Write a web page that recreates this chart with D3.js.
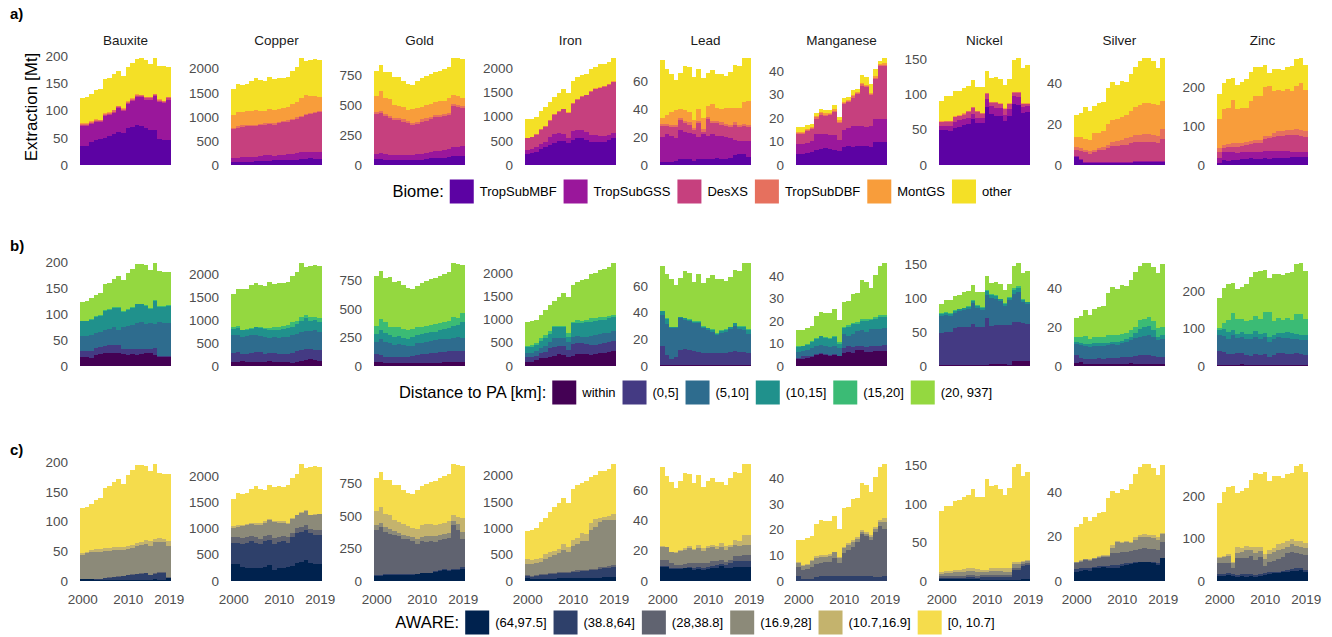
<!DOCTYPE html>
<html><head><meta charset="utf-8">
<script src="https://cdn.jsdelivr.net/npm/d3@7"></script>
<style>
html,body{margin:0;padding:0;background:#fff;}
svg{display:block;font-family:"Liberation Sans",Arial,Helvetica,sans-serif;}
</style></head><body>
<svg id="chart" width="1332" height="637"></svg>
<script>
// ---- categories & labels ----
const years = [2000,2001,2002,2003,2004,2005,2006,2007,2008,2009,2010,2011,2012,2013,2014,2015,2016,2017,2018,2019];
const minerals = ["Bauxite","Copper","Gold","Iron","Lead","Manganese","Nickel","Silver","Zinc"];
const biomeKeys = ["TropSubMBF","TropSubGSS","DesXS","TropSubDBF","MontGS","other"];
const distanceKeys = ["within","(0,5]","(5,10]","(10,15]","(15,20]","(20, 937]"];
const awareKeys = ["(64,97.5]","(38.8,64]","(28,38.8]","(16.9,28]","(10.7,16.9]","[0, 10.7]"];
const biomeColors = ["#5c02a3","#9a179b","#c6407e","#e6705e","#f89d3b","#f4e026"];
const distanceColors = ["#440154","#443a83","#2e6c8e","#20918c","#3bbb75","#94d840"];
const awareColors = ["#00224e","#2e406a","#606370","#8c8a79","#c4b36d","#f5dc4c"];
const yTickValues = [[0,50,100,150,200],[0,500,1000,1500,2000],[0,250,500,750],[0,500,1000,1500,2000],[0,20,40,60],[0,10,20,30,40],[0,50,100,150],[0,20,40],[0,100,200]];
const xTickValues = [2000,2010,2019];

// ---- extraction [Mt] by biome (one row per biome, bottom to top) ----
const biomeBauxite = [
 [35,35,42,45,48,50,53,57,60,58,68,70,74,72,67,64,64,48,46,46],
 [37,37,33,34,30,40,39,39,44,41,44,47,51,52,53,56,62,68,67,74],
 [2,2,2,2,2,2,2,2,2,2,2,2,2,2,2,2,2,2,2,2],
 [2,2,2,2,2,2,2,2,2,2,2,2,2,2,2,2,2,2,2,2],
 [1,1,1,1,1,1,1,1,1,1,1,1,1,1,1,1,1,1,1,1],
 [45,47,50,53,56,62,63,65,63,60,62,65,65,67,68,60,66,61,63,55]];
const biomeCopper = [
 [55,55,60,60,70,75,80,85,90,95,95,100,100,105,110,120,130,150,120,120],
 [95,95,100,100,95,95,110,115,110,100,115,110,120,125,140,140,140,125,155,160],
 [590,620,630,640,635,640,640,640,650,645,660,680,680,700,710,730,760,775,805,810],
 [30,30,30,30,30,30,30,30,30,30,30,30,30,30,30,30,30,30,30,30],
 [270,290,290,290,300,310,270,260,280,280,270,260,270,300,310,380,390,360,330,300],
 [530,590,550,560,620,660,630,610,660,640,640,620,620,700,740,830,710,740,750,760]];
const biomeGold = [
 [50,50,45,45,45,42,42,42,40,40,45,50,55,55,60,60,65,75,78,78],
 [42,50,45,40,39,42,42,42,44,50,50,50,55,60,60,65,70,75,74,77],
 [336,334,322,307,294,294,280,266,252,254,269,272,274,283,280,287,285,346,332,321],
 [18,18,18,18,18,18,18,18,18,18,18,18,18,18,18,18,18,18,18,18],
 [134,170,130,142,108,100,102,94,114,114,108,114,110,108,114,110,122,74,72,66],
 [210,213,215,226,231,244,216,218,204,224,240,241,248,251,258,265,260,312,319,327]];
const biomeIron = [
 [228,240,276,324,380,414,462,497,497,448,518,552,552,518,483,483,476,476,518,566],
 [82,84,104,111,103,159,173,159,138,104,193,173,173,165,138,138,130,120,100,90],
 [242,249,241,290,311,345,400,448,517,518,552,621,690,757,897,945,981,1026,1038,1055],
 [10,10,10,10,10,10,10,10,10,10,10,10,10,10,10,10,10,10,10,10],
 [5,5,5,5,5,5,5,5,5,5,5,5,5,5,5,5,5,5,5,5],
 [383,372,364,370,391,377,360,361,403,395,462,459,430,435,447,439,478,453,459,494]];
const biomeLead = [
 [2,2,2,3,4,4,4,3,4,4,4,4,5,4,4,5,7,8,8,6],
 [18,20,19,16,21,20,19,19,16,18,17,18,16,17,16,14,11,9,9,11],
 [8,6,6,8.5,7,6,6,3,10,2,12,8,9,8,8,8.5,11,10,11,10],
 [1.5,1.5,1.5,1.5,1.5,1.5,1.5,1.5,1.5,1.5,1.5,1.5,1.5,1.5,1.5,1.5,1.5,1.5,1.5,1.5],
 [4.5,6,9.5,10.5,6.5,8,7.3,5.5,8.5,8,7.8,12.5,9.1,9.8,11.1,11.6,10.1,12.1,15.5,17.5],
 [41,33.5,27,21.5,26,31.5,32.2,31,29,28.5,23.7,24,24.4,24.7,23.4,26.4,31.4,30.4,32,31]];
const biomeManganese = [
 [4.6,4.8,5.3,5.7,6.4,6.9,7.4,6.9,6.4,6.1,7.6,7.9,7.6,7.9,7.9,8.1,7.6,9.6,9.6,9.6],
 [4.3,4.2,4,4.6,6.9,6.4,5.7,6,6.5,4.3,7.4,7.8,9.1,8.5,8.5,8,9.1,10,10.1,10],
 [4.1,4,5,5,6.4,8.1,7.8,8.2,9.7,7.5,10.9,10.9,11.9,13.6,17.3,16.8,13,17,22.2,22.5],
 [0.5,0.5,0.5,0.5,0.5,0.5,0.5,0.5,0.5,0.5,0.5,0.5,0.5,0.5,0.5,0.5,0.5,0.5,0.5,0.5],
 [0.5,0.5,0.5,0.5,0.5,0.5,0.5,0.5,0.5,0.5,0.5,0.5,0.5,0.5,0.5,0.5,0.5,0.5,0.5,0.5],
 [2,2,1.5,1.3,1.3,1.3,1.4,1.2,1.8,1.3,1.6,1.2,2.4,1.2,3.3,3.5,3.8,3,1.4,2.5]];
const biomeNickel = [
 [49,49,48,52,54,56,58,65,60,59,82,72,70,70,62,69,86,85,73,75],
 [5.5,6.5,7.5,9,9.6,9,8.8,7.7,6.8,7,11,11,10.5,10.5,8.5,9.6,11.7,11.8,8.8,8],
 [6,5.5,5.5,6.3,5.4,6.4,8.2,7.8,8.2,6.7,8,4.7,7.2,5.5,8.1,7.4,4.3,5.2,4.2,3],
 [1,1,1,1,1,1,1,1,1,1,1,1,1,1,1,1,1,1,1,1],
 [0.5,0.5,0.5,0.5,0.5,0.5,0.5,0.5,0.5,0.5,0.5,0.5,0.5,0.5,0.5,0.5,0.5,0.5,0.5,0.5],
 [29,34.5,34.5,35.2,34.5,36.1,35.5,38,33.5,35.8,30.5,33.8,35.8,33.5,32.9,34.5,44.5,48.5,49.5,53.5]];
const biomeSilver = [
 [3.7,2.5,1,0.8,0.8,0.8,1,1,1,1.2,1.2,1.2,1.2,1.5,1.7,1.7,1.5,1.5,1.5,1.5],
 [0.5,0.5,0.5,0.5,0.5,0.5,0.5,0.5,0.5,0.5,0.5,0.5,0.5,0.5,0.5,0.5,0.5,0.5,0.5,0.5],
 [3.3,3.7,4.7,4.2,4.9,5.9,6,6.8,7.7,7.5,8.3,8.3,9.1,9.2,9,9.3,9.5,9.2,8.8,10.8],
 [1.3,1.6,1.3,1.2,1,1.1,1.3,1.7,2,2.5,2.5,3.3,3,3.3,3.3,3.5,3.5,3.3,3.4,4.7],
 [5,5.5,5.3,5.8,8.3,7.5,7.9,10,11,10.8,11.3,11.2,12.9,13.8,15,15.5,15.5,15.5,15.3,14.2],
 [10.7,11.7,15.7,13.8,13.5,14.7,14.3,17.6,18.4,17,17.7,16.5,17.8,19.9,21.8,22.3,22.3,20.9,18.3,20.7]];
const biomeZinc = [
 [6,13,11,13,13,15,15,17,16,16,17,15,17,17,19,17,21,21,21,20],
 [11,19,21,19,17,17,17,15,16,18,20,22,20,20,18,20,13,13,13,12],
 [15,11,13.5,15,15.5,17,19.5,22,24,22,29,31.6,34,37.6,37.6,40,43,43,40.6,39],
 [11,8.5,8.5,8.8,10.3,8.5,8.5,8.6,8,8,8.6,6,10.5,11.2,11.2,13,13,14.8,15.4,14.8],
 [74.5,91.5,92,109.8,87.2,88.5,86,100.4,113.6,113.6,125.4,127,109,107.2,103,104.8,98.8,111.5,120,107.2],
 [65.5,66,74,57.4,63,66,74,75,73.4,73.4,56,33.4,55.5,53,54.2,56.2,64.2,68.7,65,63]];

// ---- extraction [Mt] by distance to protected areas ----
const distBauxite = [
 [16,17,14,20,22,24,24,25,25,22,21,22,21,23,24,25,21,17,16,16],
 [12.5,11.5,14.5,13.6,13.6,14,16,15,15,9.7,10.7,9.7,10.7,10,9,8,12.6,2,2,2],
 [29.1,29.1,31,29.2,28.4,30,30.5,34.4,29,42.7,44,47.3,50.3,50.5,48,49,46.4,64.5,64,64],
 [27.8,27.8,29.1,31,32.4,36.8,37.5,36.6,42,28.5,32.3,32,35.8,34.3,33.5,27.3,44.2,29.5,31,33.8],
 [1.5,1.5,1.5,1.5,1.5,1.5,1.5,1.5,1.5,1.5,1.5,1.5,1.5,1.5,1.5,1.5,1.5,1.5,1.5,1.5],
 [35.1,37.1,39.9,41.7,41.1,50.7,50.5,53.5,59.5,59.6,69.5,74.5,75.7,76.7,77,74.2,71.3,67.5,66.5,62.7]];
const distCopper = [
 [86,86,100,86,90,86,86,80,110,80,86,72,70,65,86,100,120,136,120,100],
 [194,215,165,179,190,215,215,185,170,200,179,179,195,215,237,237,253,237,231,237],
 [380,373,359,373,380,373,344,359,329,344,344,373,359,380,372,394,380,380,416,394],
 [143,151,143,144,143,165,180,179,158,158,173,179,201,193,215,251,287,229,230,215],
 [36,50,20,21,22,14,28,22,58,57,71,72,71,93,72,72,71,86,57,86],
 [731,805,873,877,925,957,907,915,995,951,957,925,924,1014,1058,1176,1049,1112,1136,1148]];
const distGold = [
 [29,29,26,26,26,26,24,24,24,26,26,26,26,26,26,29,29,29,32,35],
 [71,65,53,53,47,53,55,55,64,68,77,77,83,89,97,94,100,103,100,97],
 [112,138,133,118,109,109,100,95,85,103,100,109,111,111,109,109,109,109,118,109],
 [67,83,79,73,74,74,68,64,77,73,76,73,74,74,83,88,91,109,109,147],
 [71,94,97,68,88,82,79,77,70,68,59,65,65,68,64,68,68,76,58,79],
 [440,426,387,440,391,402,380,371,352,362,392,395,401,407,411,417,423,474,476,420]];
const distIron = [
 [87,87,123,159,173,195,209,245,231,195,209,253,253,253,231,245,267,267,303,318],
 [93,108,86,108,130,180,203,181,195,144,260,231,231,216,217,203,202,217,202,223],
 [87,87,109,108,123,145,180,180,180,181,145,159,144,159,195,216,210,216,210,217],
 [130,130,130,166,166,166,238,224,224,108,303,288,303,325,310,311,310,289,310,289],
 [29,36,36,51,72,72,29,29,29,72,36,58,44,36,72,50,58,72,51,50],
 [524,512,516,518,536,552,551,621,711,780,787,831,885,901,955,995,1033,1029,1054,1123]];
const distLead = [
 [0.5,0.5,0.5,0.5,0.5,0.5,0.5,0.5,0.5,0.5,0.5,0.5,0.5,0.5,0.5,0.5,0.5,0.5,0.5,0.5],
 [14.3,7.5,4.3,6.3,11.3,11.8,11.3,10.8,10,8.8,8.8,8.8,8.8,8.8,8.8,9.5,10.5,9.5,10,9.3],
 [23.2,23.3,23.2,21.2,23.7,22,21.7,20.5,21.3,18.7,17.5,16.2,13.7,15.5,16.2,17.3,18.8,17.3,16,14],
 [3,3.5,0.8,0.8,0.8,1.2,0.8,1.2,1.2,1.3,1.2,1.3,0.8,1.5,1.3,1.5,2,2,2.5,3],
 [0.5,1,0.5,0.5,0.5,0.5,0.5,0.5,0.5,0.5,0.5,0.5,0.5,0.5,0.5,0.5,0.5,0.5,0.5,0.8],
 [33.5,33.2,35.7,31.7,29.2,35,35.2,29.5,35.5,32.2,37.5,40.7,40.7,38.2,36.7,37.7,39.7,41.2,47.5,49.4]];
const distManganese = [
 [3,3,3.3,3.8,4.8,5.3,4.8,4.4,4.8,4.1,5.6,5.9,5.6,6.8,6.8,6.3,6.3,6.6,6.6,6.6],
 [0.3,1.1,0.8,0.3,0.5,0.3,0.5,0.4,0.5,0.3,2.2,2.7,2.7,2.1,2.1,2,2.6,2.3,2.3,2.8],
 [3,2.5,3,3.7,3.6,3.8,3.6,3.5,3.6,3.4,6.1,4.8,6,6.5,6.9,6.6,7.3,7.3,7.6,7.5],
 [2,2,2.3,2.6,3,3.7,3.5,3.6,3.7,2,3,4,4.1,3,4.1,5,4.2,4.8,5.4,5],
 [0.3,0.3,0.4,0.5,0.5,0.3,0.4,0.5,0.8,0.6,0.5,0.6,0.5,1,0.8,0.8,0.6,0.9,0.6,0.6],
 [7.4,7.1,7,6.7,9.6,10.3,10.5,10.9,12,9.8,11.1,10.8,13.1,12.8,17.3,16.7,13.5,18.7,21.8,23.1]];
const distNickel = [
 [1,1,1,1,1,1,1,0.5,1,1,1,2,2,2.5,2.5,1.5,7,7,7,7],
 [48,49.7,49.7,54.6,56,57,56,61.5,56,56,69.5,57,58.6,58.1,58.1,59.1,58.6,58.6,57,55],
 [25,24.8,23.3,22.4,23.5,24,27.4,30.9,28.4,26,34.8,41.3,38.2,34.8,28.3,36.3,41.2,43.2,29.9,29.9],
 [3,3,3,3,3,3,3,3,3,3,5,4,4,3,3,4,6,7,3,2],
 [1,1,1,1,1,1,1,1,1,1,1.5,1.5,1.5,1,1,1.5,2,2,1.5,1],
 [13,17.5,19,22,20.5,23,22.6,23.1,20.6,23,21.2,17.2,20.7,21.6,20.1,19.6,33.2,34.2,38.6,46.1]];
const distSilver = [
 [1.5,1.7,1,0.8,0.8,0.8,0.8,0.8,0.8,0.8,0.8,1,1.2,1,0.8,0.8,0.8,0.8,0.8,1],
 [4,2.1,2.4,2.5,2.6,3,2.6,3,3,3,3.5,3.7,3.1,4,4.7,4.7,4.7,4.2,3.5,3.3],
 [5.7,6.9,6.8,6.5,6.8,6.4,6.8,6.9,7.4,6.9,7.3,7.7,8.9,9.1,9.5,9.8,10.4,10,9,9.3],
 [1.2,1.2,1,1.4,1.4,1.4,1.4,1.2,1.2,1.5,1.3,1.2,1.7,2.6,3.8,4.5,4.6,3.4,1.7,2.3],
 [2.6,2.8,4.1,2.4,3.4,3.1,3.4,4,3.5,3.5,3.5,3.1,3.4,3.1,4.8,4.2,4.5,4.4,4.3,3.9],
 [9.5,10.8,13.2,12.7,14,15.8,16,21.7,24.7,23.6,25.1,24.3,26.1,28.4,27.7,28.8,27.8,28.1,28.5,32.6]];
const distZinc = [
 [2,2,2,3,3,4,3,2,2,3,3,3,3,2,3,3,3,3,3,2],
 [38,35,29,28,30,31,25,24,29,25,28,21,25,31,30,28,28,30,28,26],
 [41.8,41.7,42,50.8,42.6,42.6,44.6,44.4,46.3,44.2,46.3,40,44.6,44.3,42.6,44.6,42,40,39.2,41.8],
 [13.2,20.6,17.7,13.2,10.4,13.4,11.4,15.8,16,14.2,10.7,13.3,8.8,10.7,12.4,14.4,15,13,11.6,11.6],
 [7,15.1,31.1,46,40,35.3,37.4,37.6,39.1,39.6,56,66.7,40,40.9,33.8,38.2,35.6,51.8,56,44.2],
 [81,94.3,98.2,82,80,86,98.2,114.4,118.6,127.4,112,91,124.2,117.1,121.2,122.1,129.4,134.2,137.2,130]];

// ---- extraction [Mt] by AWARE water-scarcity class ----
const awareBauxite = [
 [3,3,3,2,2,2,2,2,2,2,2,2,2,2,2,2,3,2,2,4],
 [0,0,0,0.5,1,2,3,4,5,6,7,8,9,10,10.4,7,9,11.6,11.6,1],
 [0.5,0.5,0.5,0.5,0.5,0.5,0.5,0.5,0.5,0.5,0.5,0.5,0.5,0.5,0.5,0.5,0.5,0.5,0.5,0.5],
 [40,42.8,44.5,46,45.5,45.8,44.8,45.5,44.5,43.5,43.5,45.5,47.3,48,49.1,49.3,52.5,50.9,50.9,53.3],
 [2.8,2.7,4,4.7,4.7,5.7,5.7,4.5,4.5,4.5,6.3,4.5,4.5,5.5,6.4,8.4,5,6.8,5.6,8.4],
 [75.7,75,78,83.3,85.3,101,104,109.5,115.5,107.5,119.7,126.5,131.7,130,124.6,117.8,127,110.2,110.4,112.8]];
const awareCopper = [
 [318,311,267,248,248,248,248,267,298,203,248,248,267,286,330,362,394,330,318,318],
 [412,419,444,482,508,482,463,489,477,508,495,508,463,552,591,571,571,591,552,565],
 [108,108,108,108,101,108,95,101,95,108,95,101,108,83,89,96,95,63,95,95],
 [172,191,229,222,235,235,267,254,286,305,273,254,254,266,241,273,267,267,299,298],
 [38,44,25,32,19,38,38,26,19,13,26,26,19,13,13,12,19,13,19,7],
 [522,607,587,588,639,699,649,603,645,653,673,663,709,760,776,916,814,916,907,897]];
const awareGold = [
 [38,38,43,43,43,43,43,43,43,48,56,56,56,69,74,82,74,82,82,94],
 [5,5,5,5,5,5,5,5,5,5,5,5,5,8,8,10,10,10,10,12],
 [345,370,327,314,307,294,276,271,256,233,243,237,243,221,229,227,245,339,296,218],
 [38,33,38,38,25,28,31,25,33,38,33,46,40,46,44,43,41,33,51,51],
 [115,120,102,103,92,82,84,77,69,71,89,95,95,84,84,84,87,44,51,107],
 [249,269,260,275,263,288,261,259,266,305,304,306,321,341,351,359,363,392,403,405]];
const awareIron = [
 [44,32,38,38,38,40,40,44,44,44,50,50,55,55,60,60,60,64,64,64],
 [51,44,57,70,70,81,81,96,96,96,109,121,129,129,143,143,162,171,184,203],
 [20,20,20,20,20,20,20,20,20,20,25,25,25,25,25,25,30,30,30,30],
 [196,215,215,234,285,316,348,361,424,392,483,496,547,547,737,801,859,891,878,859],
 [102,83,83,76,89,83,76,82,108,96,108,114,146,127,127,146,89,63,82,108],
 [537,566,587,672,698,770,845,877,878,832,965,1014,958,1007,888,845,880,871,892,956]];
const awareLead = [
 [9.3,8.9,7.8,7.6,7.8,8.2,8.7,7.1,7.8,7.1,7.8,8.2,8.7,10,8.7,8.7,8.9,9.3,9.3,9.3],
 [0.7,1.1,0.9,0.6,0.4,0.5,0.6,1.1,1.5,1.6,1.5,1.8,1.7,0.9,1.7,2.9,4.2,3.8,3.8,3.8],
 [3.8,3.8,2.9,2.2,2.2,2.3,2.3,3.4,2.3,2.9,2.6,2.7,2.7,2.9,2.2,2.2,2.9,2.9,3.6,3.6],
 [8.2,8.2,7.3,7.8,8.9,9.5,10.2,8.5,10.2,8.3,9.4,9.3,8,8.2,7.8,8.2,7.3,6.7,7.1,7.1],
 [0.7,0,0,0.7,1.1,1.2,0.9,0.9,1.6,1.8,1.7,1.8,1.6,2.9,2.7,1.6,3.8,3.7,6.2,6.6],
 [52.3,47,46.1,42.1,45.6,49.4,48,43.2,46.3,40.4,42.7,44.2,42.3,40.1,40.2,44.3,44.9,44.6,47,46.6]];
const awareManganese = [
 [0,0,0,0,0,0,0,0,0,0,0,0,0,0,0,0,0,0,0,0],
 [2,0.7,0.7,0.7,1.5,2,2,2,1.8,1.8,2,2,2,2,2,2,2,1.6,1.6,2],
 [3.5,3.5,3.9,4.8,4.9,5,5.4,5.4,6.9,5,8.7,10,11.3,13,16.1,15.6,13.9,17.6,19.9,18.2],
 [1.5,1.7,1.5,2.2,2.6,2.4,2,2.4,2.4,2.2,1.9,1.9,1.9,1.3,0.8,0.5,1.3,1,1.3,2.6],
 [0.4,0.2,0.3,0.4,0.8,0.6,0.6,0.5,0.2,0.4,0.7,0.7,0.7,0.9,0.9,1.1,0.7,0.9,0.9,1.6],
 [8.6,9.9,10.4,9.5,12.2,13.7,13.3,13,14.1,10.8,15.2,14.2,16.1,15,18.2,18.2,16.6,19.5,20.6,21.2]];
const awareNickel = [
 [2,2,2,2,2,2,2,2,2,1.5,1.5,1.5,1.5,1.5,1.5,1.5,1,1,2,2],
 [1.9,1.9,1.9,1.9,1.9,1.9,3.2,3.2,1.9,3.7,3.7,3.7,3.7,3.7,3.7,3.7,12.9,12.9,17.6,18.4],
 [2.6,2.6,2.6,2.6,2.6,2.6,2.6,2.6,2.6,2.6,2.6,2.6,2.6,2.6,2.6,2.6,2,2,1.7,2.2],
 [1.8,3.1,3.1,4.4,4.4,5.2,4.8,4.8,5.2,3.9,3.9,4.8,4.8,4.8,3.9,3.9,5.4,5.4,2.6,3.1],
 [3.4,3,3,3,3,3.5,3.5,3.5,3.9,2.6,2.6,3.5,3.5,3.5,4.4,4.4,2.6,2.6,1.8,1.3],
 [79.3,84.4,84.4,90.1,91.1,93.8,95.9,103.9,93.9,94.8,117.8,106.9,108,104,96,105,124.1,128.1,111.3,114]];
const awareSilver = [
 [4.1,4.4,4.8,4.4,5.6,5.9,6.3,5.6,5.9,5.9,6.8,7.1,7.4,7.8,8.3,8.3,8.3,7.8,7.1,10.1],
 [1.2,1.2,1.1,1.5,0.7,0.9,0.5,1.2,1.2,1.2,0.6,0.7,0.4,0.5,0.3,0.3,0,0.5,0.7,0.3],
 [2.5,3,3.3,3,3.5,3.6,4.1,4.1,5.3,5.3,5.4,5.3,5.6,5.6,5.7,6,6.2,5.9,6.1,7],
 [0.5,0.3,0.5,0.5,0.3,0.5,0.4,0.4,2.2,5,4.1,4.6,3.5,4.5,5.6,5.3,5.3,5.2,4.5,3.6],
 [0.3,0.5,0,0.5,0.3,0.4,0.3,0.3,1.6,0.6,0.5,0.3,0.7,1.5,0.8,1.1,1.1,1.2,1.5,0.4],
 [15.9,16.1,19.1,16.9,18.6,19.2,19.7,26,24.4,21.5,24.1,23,26.1,28.3,30.6,31.8,31.8,30.2,27.9,31]];
const awareZinc = [
 [11.8,11.8,13.4,11.8,9.4,11.8,9.4,11.8,9.4,11.8,13.4,15,17.3,17.3,19.7,21.2,22.8,22.8,25.2,21.2],
 [3.2,3.2,3.9,3.2,4,3.2,5.6,3.2,4,3.2,3.9,4.7,3.9,3.9,3.1,4,4.7,6.3,5.5,4],
 [25.9,25.9,23.6,15.5,39.3,39.3,38.9,44,35.4,41.7,18.1,23.6,25.2,30,33.9,39.3,39.4,35.4,31.5,35.4],
 [13.4,15.8,18.1,10.2,11.8,12.6,18.1,13.4,15.7,13.3,15.8,18.9,20.5,21.2,18.1,15.8,18.9,17.3,18.1,17.3],
 [2.4,2.3,3.2,2.4,15.8,11,10.2,7.9,15.7,10.3,11,10.2,9.4,13.4,13.3,13.4,12.6,11.8,13.4,10.2],
 [126.3,150,157.8,179.7,125.7,134.1,137.4,157.7,173.1,170.7,193.8,162.6,169.7,160.2,154.9,157.3,154.6,176,181.3,167.9]];

// ---- layout ----
const svg = d3.select("#chart");
const panelLeft = [80,231,374,525,660,796,939,1074,1217];
const panelWidth = 91;
const tickColor = "#4d4d4d";
const plainNumber = d3.format("d");

const rows = [
  {tag:"a)", tagY:14, base:165, height:112.8, keys:biomeKeys, colors:biomeColors,
   legendTitle:"Biome:", legendY:191.5, legendCenter:702, titles:true,
   data:[biomeBauxite,biomeCopper,biomeGold,biomeIron,biomeLead,biomeManganese,biomeNickel,biomeSilver,biomeZinc]},
  {tag:"b)", tagY:246, base:365.7, height:107.5, keys:distanceKeys, colors:distanceColors,
   legendTitle:"Distance to PA [km]:", legendY:392.5, legendCenter:695.5,
   data:[distBauxite,distCopper,distGold,distIron,distLead,distManganese,distNickel,distSilver,distZinc]},
  {tag:"c)", tagY:450, base:580.7, height:122.5, keys:awareKeys, colors:awareColors,
   legendTitle:"AWARE:", legendY:622.5, legendCenter:695, xAxis:true,
   data:[awareBauxite,awareCopper,awareGold,awareIron,awareLead,awareManganese,awareNickel,awareSilver,awareZinc]}
];

rows.forEach(row => {
  svg.append("text").attr("x", 10).attr("y", row.tagY).attr("dy", "0.35em")
    .style("font-size", "15px").style("font-weight", "bold").attr("fill", "#000").text(row.tag);

  minerals.forEach((mineral, p) => {
    const layers = row.data[p];
    const table = years.map((yr, i) => {
      const rec = {year: yr};
      row.keys.forEach((k, j) => { rec[k] = layers[j][i]; });
      return rec;
    });
    const series = d3.stack().keys(row.keys)(table);
    const top = d3.max(series[series.length - 1], d => d[1]);

    const x = d3.scaleLinear()
      .domain([years[0] - 0.5, years[years.length - 1] + 0.5])
      .range([panelLeft[p], panelLeft[p] + panelWidth]);
    const y = d3.scaleLinear().domain([0, top * 1.05]).range([row.base, row.base - row.height]);

    const area = d3.area().x(d => x(d.x)).y0(d => y(d.y0)).y1(d => y(d.y1));
    const g = svg.append("g");

    // each year is a full-width step
    g.selectAll("path.band").data(series).join("path")
      .attr("class", "band")
      .attr("d", s => area(s.flatMap(d => [
        {x: d.data.year - 0.5, y0: d[0], y1: d[1]},
        {x: d.data.year + 0.5, y0: d[0], y1: d[1]}])))
      .attr("fill", (s, i) => row.colors[i])
      .attr("shape-rendering", "crispEdges");

    const yAxis = g.append("g").attr("transform", `translate(${panelLeft[p]},0)`)
      .call(d3.axisLeft(y).tickValues(yTickValues[p]).tickFormat(plainNumber).tickSize(0).tickPadding(12));
    yAxis.select(".domain").remove();
    yAxis.attr("font-family", null).attr("font-size", null);
    yAxis.selectAll("text").attr("fill", tickColor).style("font-size", "13.5px");

    if (row.xAxis) {
      const xAxis = g.append("g").attr("transform", `translate(0,${row.base})`)
        .call(d3.axisBottom(x).tickValues(xTickValues).tickFormat(plainNumber).tickSize(0).tickPadding(14));
      xAxis.select(".domain").remove();
      xAxis.attr("font-family", null).attr("font-size", null);
      xAxis.selectAll("text").attr("fill", tickColor).style("font-size", "13.5px");
    }

    if (row.titles) {
      g.append("text").attr("x", panelLeft[p] + panelWidth / 2).attr("y", 40).attr("dy", "0.35em")
        .attr("text-anchor", "middle").attr("fill", "#1a1a1a").style("font-size", "13.5px").text(mineral);
    }
  });

  // legend
  const lg = svg.append("g");
  const title = lg.append("text").attr("x", 0).attr("y", row.legendY).attr("dy", "0.35em")
    .style("font-size", "16.5px").attr("fill", "#000").text(row.legendTitle);
  let cx = title.node().getComputedTextLength() + 6;
  row.keys.forEach((k, i) => {
    lg.append("rect").attr("x", cx).attr("y", row.legendY - 12).attr("width", 24).attr("height", 24)
      .attr("fill", row.colors[i]);
    cx += 30;
    const t = lg.append("text").attr("x", cx).attr("y", row.legendY).attr("dy", "0.35em")
      .style("font-size", "13px").attr("fill", "#000").text(k);
    cx += t.node().getComputedTextLength() + 7;
  });
  const legendWidth = cx - 7;
  lg.attr("transform", `translate(${row.legendCenter - legendWidth / 2},0)`);
});

// y-axis title
svg.append("text").attr("transform", "translate(31.5,107) rotate(-90)").attr("dy", "0.35em")
  .attr("text-anchor", "middle").style("font-size", "17px").attr("fill", "#000").text("Extraction [Mt]");
</script></body></html>
